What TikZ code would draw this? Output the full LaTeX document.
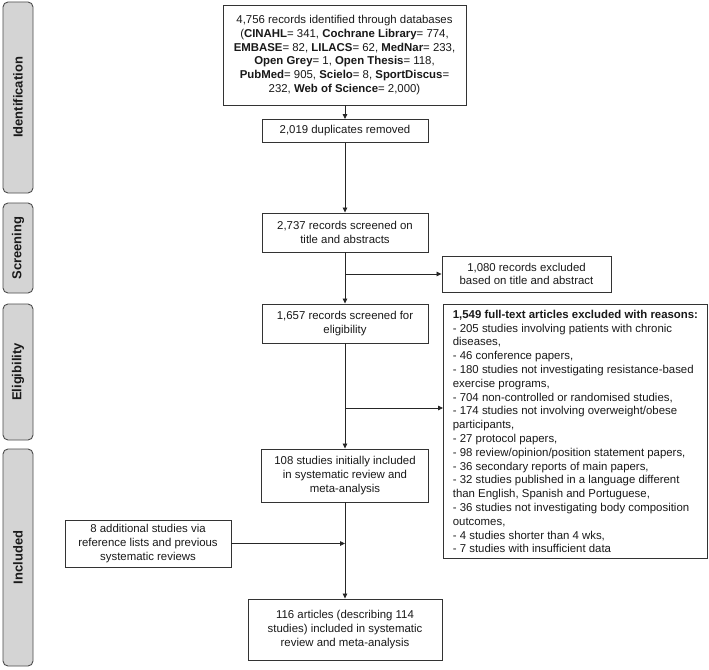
\documentclass[tikz,border=0pt]{standalone}
\usepackage{fontspec}
\setmainfont{Liberation Sans}
\usetikzlibrary{arrows.meta}
\begin{document}
\begin{tikzpicture}[x=1pt,y=-1pt,
  box/.style={draw=black!80, line width=0.9pt, align=center, text=black!90,
    font=\fontsize{11.4}{13.8}\selectfont, inner sep=0pt},
  phase/.style={draw=black!70, fill=black!17, rounded corners=5pt, line width=0.9pt,
    rotate=90, text=black!90, font=\fontsize{13}{15}\selectfont\bfseries,
    inner sep=0pt, minimum height=30pt},
  arr/.style={draw=black!85, line width=0.8pt, -{Triangle[length=5pt,width=4.5pt]}},
]
\useasboundingbox (0,0) rectangle (709,669);
\fill[white] (0,0) rectangle (709,669);

% phase bars
\node[phase, minimum width=191pt] (pid) at (18,97.5) {Identification};
\node[phase, minimum width=90pt] (pscr) at (18,248) {Screening};
\node[phase, minimum width=136pt] (pelig) at (18,372) {Eligibility};
\node[phase, minimum width=217pt] (pinc) at (18,557.5) {Included};

% main boxes
\node[box, minimum width=243pt, minimum height=100pt] (rec) at (344.5,55)
 {4,756 records identified through databases\\
  (\textbf{CINAHL}= 341, \textbf{Cochrane Library}= 774,\\
  \textbf{EMBASE}= 82, \textbf{LILACS}= 62, \textbf{MedNar}= 233,\\
  \textbf{Open Grey}= 1, \textbf{Open Thesis}= 118,\\
  \textbf{PubMed}= 905, \textbf{Scielo}= 8, \textbf{SportDiscus}=\\
  232, \textbf{Web of Science}= 2,000)};
\node[box, minimum width=166pt, minimum height=23pt] (dup) at (345,131)
 {2,019 duplicates removed};
\node[box, minimum width=166pt, minimum height=39pt] (scr) at (345,232.5)
 {2,737 records screened on\\title and abstracts};
\node[box, minimum width=169pt, minimum height=36pt] (exc1) at (526.5,274)
 {1,080 records excluded\\based on title and abstract};
\node[box, minimum width=166pt, minimum height=39pt] (elig) at (345,323.5)
 {1,657 records screened for\\eligibility};
\node[box, minimum width=264pt, minimum height=254pt, anchor=north west,
      align=left] (exc2) at (443,304)
 {\textbf{1,549 full-text articles excluded with reasons:}\\
  - 205 studies involving patients with chronic\\
  diseases,\\
  - 46 conference papers,\\
  - 180 studies not investigating resistance-based\\
  exercise programs,\\
  - 704 non-controlled or randomised studies,\\
  - 174 studies not involving overweight/obese\\
  participants,\\
  - 27 protocol papers,\\
  - 98 review/opinion/position statement papers,\\
  - 36 secondary reports of main papers,\\
  - 32 studies published in a language different\\
  than English, Spanish and Portuguese,\\
  - 36 studies not investigating body composition\\
  outcomes,\\
  - 4 studies shorter than 4 wks,\\
  - 7 studies with insufficient data};
\node[box, minimum width=167pt, minimum height=53pt] (inc1) at (345,475.5)
 {108 studies initially included\\in systematic review and\\meta-analysis};
\node[box, minimum width=166pt, minimum height=47pt] (add) at (148,543.5)
 {8 additional studies via\\reference lists and previous\\systematic reviews};
\node[box, minimum width=194pt, minimum height=61pt] (fin) at (345,629.5)
 {116 articles (describing 114\\studies) included in systematic\\review and meta-analysis};

% connectors
\draw[arr] (dup.north |- rec.south) -- (dup.north);
\draw[arr] (dup) -- (scr);
\draw[arr] (scr) -- (elig);
\coordinate (j1) at (345,274);
\draw[arr] (j1) -- (exc1);
\draw[arr] (elig) -- (inc1);
\coordinate (j2) at (345,408);
\draw[arr] (j2) -- (j2 -| exc2.west);
\draw[arr] (inc1) -- (fin);
\coordinate (j3) at (345,543.5);
\draw[arr] (add) -- (j3);
\end{tikzpicture}
\end{document}
